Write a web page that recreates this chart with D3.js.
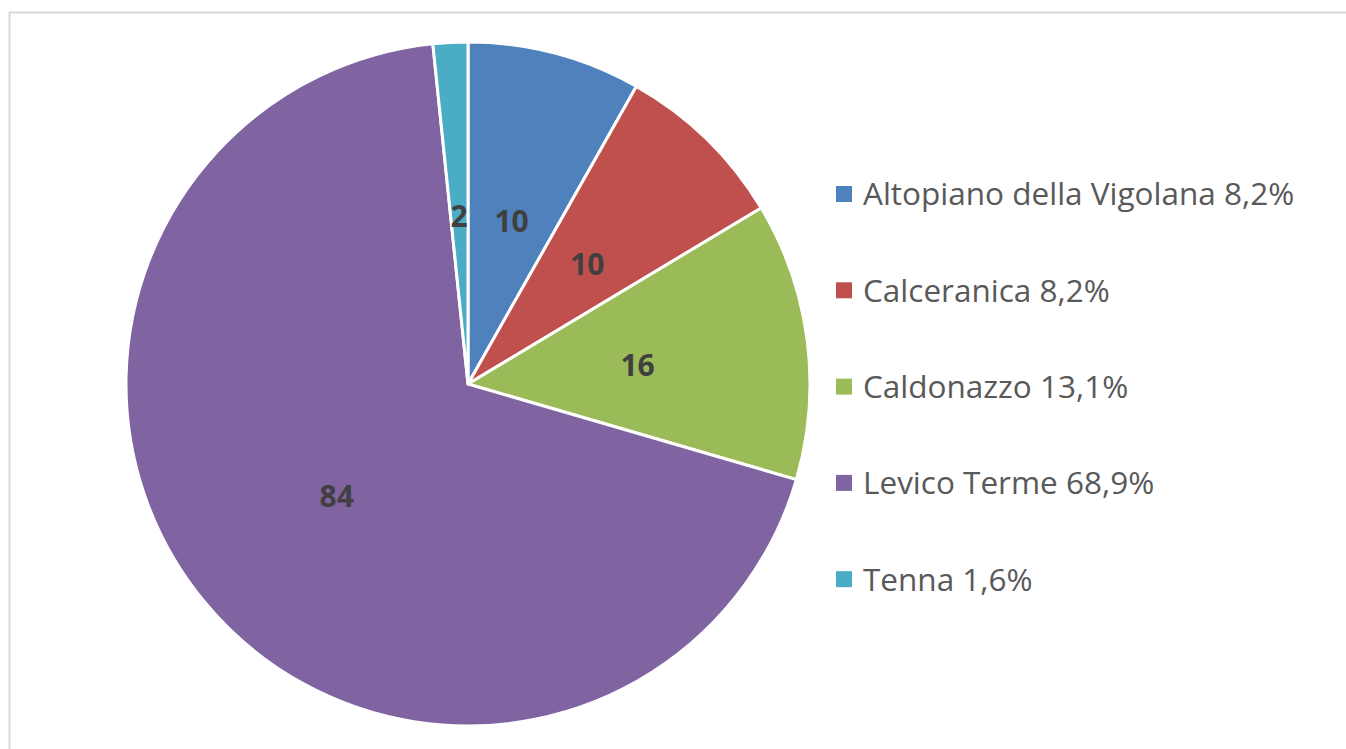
<!DOCTYPE html>
<html>
<head>
<meta charset="utf-8">
<script src="https://cdn.jsdelivr.net/npm/d3@7"></script>
<style>
  html, body { margin: 0; padding: 0; background: #fff; }
  svg { display: block; }
</style>
</head>
<body>
<svg id="chart" width="1346" height="749"></svg>
<script>
/* torta comuni — d3.pie a partire da ore 12, senso orario */
var W = 1346, H = 749;
var CX = 468, CY = 384, R = 342;

var categories = ['Altopiano della Vigolana', 'Calceranica', 'Caldonazzo', 'Levico Terme', 'Tenna'];
var values = [10, 10, 16, 84, 2];
var percentLabels = ['8,2%', '8,2%', '13,1%', '68,9%', '1,6%'];
var colors = ['#4f81bd', '#c0504d', '#9bbb59', '#8064a2', '#4bacc6'];

var svg = d3.select('#chart');

// cornice grigia del grafico
svg.append('rect')
  .attr('x', 9.5).attr('y', 12.5).attr('width', W + 20).attr('height', H + 20)
  .attr('fill', 'none').attr('stroke', '#d9d9d9').attr('stroke-width', 2);

var data = categories.map(function (c, i) { return { name: c, value: values[i], pct: percentLabels[i], color: colors[i] }; });

var pie = d3.pie().sort(null).value(function (d) { return d.value; });
var arc = d3.arc().innerRadius(0).outerRadius(R);
var arcs = pie(data);

var g = svg.append('g').attr('transform', 'translate(' + CX + ',' + CY + ')');
g.selectAll('path.slice').data(arcs).enter().append('path')
  .attr('class', 'slice')
  .attr('d', arc)
  .attr('fill', function (d) { return d.data.color; })
  .attr('stroke', '#fff').attr('stroke-width', 3).attr('stroke-linejoin', 'round');

g.selectAll('text.val').data(arcs).enter().append('text')
  .attr('class', 'val')
  .attr('transform', function (d) { var c = arc.centroid(d); return 'translate(' + c[0] + ',' + c[1] + ')'; })
  .attr('text-anchor', 'middle').attr('dy', '0.46em')
  .style('font-family', '"Open Sans", "Liberation Sans", sans-serif')
  .style('font-weight', 'bold').style('font-size', '30px').style('fill', '#404040')
  .text(function (d) { return d.data.value; });

// legenda
var LX = 836, LY0 = 194, LSTEP = 96.3;
var leg = svg.append('g').selectAll('g.leg').data(data).enter().append('g')
  .attr('class', 'leg')
  .attr('transform', function (d, i) { return 'translate(' + LX + ',' + (LY0 + i * LSTEP) + ')'; });
leg.append('rect').attr('x', 0).attr('y', -8).attr('width', 16).attr('height', 16)
  .attr('fill', function (d) { return d.color; });
leg.append('text').attr('x', 27).attr('dy', '0.36em')
  .style('font-family', '"Open Sans", "Liberation Sans", sans-serif')
  .style('font-size', '31.5px').style('fill', '#595959')
  .text(function (d) { return d.name + ' ' + d.pct; });
</script>
</body>
</html>
